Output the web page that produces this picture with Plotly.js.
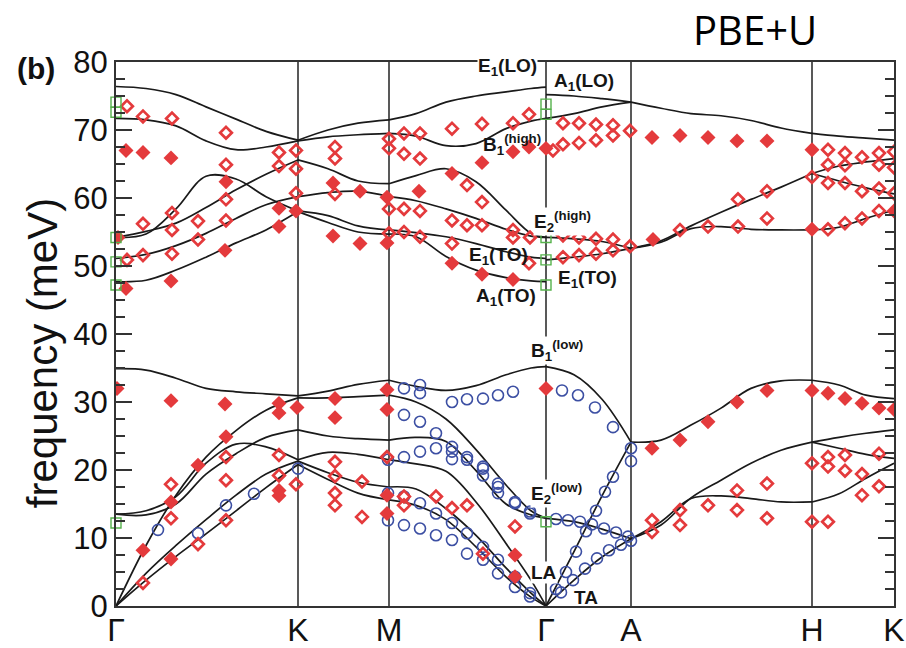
<!DOCTYPE html>
<html><head><meta charset="utf-8">
<script src="https://cdn.plot.ly/plotly-3.0.1.min.js"></script>
<style>html,body{margin:0;padding:0;background:#fff;}#chart{width:906px;height:648px;}</style>
</head><body><div id="chart"></div>
<script>
// k-path positions and labels
const pathPos = [0, 182, 273, 430, 515, 696, 778];
const pathLabels = ['Γ', 'K', 'M', 'Γ', 'A', 'H', 'K'];

// calculated bands, sampled per path segment (meV)
const xGK = [0, 30, 60, 90, 120, 150, 182];
const bandsGK = [
  [76.4, 76.1, 75.2, 73.4, 71.6, 69.8, 68.5],
  [71.7, 71.5, 70.6, 68.4, 67.1, 67.5, 68.4],
  [54.2, 55.1, 56.3, 58.6, 61.2, 63.5, 65.6],
  [54.2, 54.7, 58.4, 63.2, 62.8, 60.2, 58.1],
  [51.1, 51.7, 53.0, 54.8, 57.0, 59.0, 60.2],
  [47.7, 47.9, 49.4, 51.3, 53.4, 55.3, 58.0],
  [34.9, 34.7, 33.5, 32.0, 31.5, 31.2, 30.9],
  [0, 8.9, 16.3, 21.9, 25.8, 28.8, 30.6],
  [13.5, 14.0, 16.1, 21.0, 23.8, 23.4, 21.5],
  [13.5, 13.4, 15.0, 19.4, 22.4, 24.8, 25.9],
  [0, 4.8, 8.9, 12.7, 16.3, 19.4, 21.3],
  [0, 3.8, 7.3, 10.6, 14.0, 17.4, 20.8]
];
const xKM = [182, 212, 242, 273];
const bandsKM = [
  [68.5, 70.0, 71.0, 71.5],
  [68.4, 69.0, 69.3, 69.5],
  [65.6, 64.3, 62.5, 62.1],
  [60.2, 60.8, 61.0, 60.2],
  [58.1, 57.4, 55.9, 55.3],
  [58.0, 56.4, 55.0, 54.7],
  [30.9, 31.6, 32.6, 33.2],
  [30.6, 30.6, 30.8, 31.0],
  [25.9, 25.0, 24.6, 24.4],
  [21.5, 22.6, 22.3, 21.5],
  [21.3, 19.6, 18.2, 17.5],
  [20.8, 18.6, 16.6, 15.6]
];
const xMG = [273, 300, 330, 360, 390, 415, 430];
const bandsMG = [
  [71.5, 72.4, 74.1, 75.0, 75.6, 76.1, 76.3],
  [69.5, 69.1, 67.7, 68.0, 70.2, 71.3, 71.7],
  [62.1, 63.3, 64.3, 62.4, 58.2, 54.8, 54.2],
  [60.2, 59.6, 58.4, 57.0, 55.4, 54.4, 54.2],
  [55.3, 54.9, 54.3, 53.3, 52.1, 51.3, 51.1],
  [54.7, 54.3, 51.4, 49.4, 48.3, 47.8, 47.7],
  [33.2, 32.3, 31.7, 32.4, 34.0, 35.0, 35.2],
  [31.0, 30.0, 27.5, 23.0, 17.8, 14.0, 12.9],
  [24.4, 24.8, 24.2, 19.9, 15.0, 13.4, 12.9],
  [21.5, 20.9, 19.8, 15.3, 9.2, 3.8, 0],
  [17.5, 17.2, 14.3, 10.4, 5.6, 1.9, 0],
  [15.6, 14.8, 12.7, 8.7, 4.3, 1.3, 0]
];
const xGA = [430, 458, 486, 515];
const bandsGA = [
  [75.2, 75.0, 74.6, 74.1],
  [71.7, 72.4, 73.4, 74.1],
  [54.2, 54.0, 53.6, 52.6],
  [50.9, 51.3, 51.8, 52.6],
  [35.2, 34.0, 30.4, 24.1],
  [0, 8.0, 16.2, 24.1],
  [12.9, 12.4, 11.3, 9.9],
  [0, 3.8, 7.2, 9.9]
];
const xAH = [515, 545, 575, 605, 635, 665, 696];
const bandsAH = [
  [74.1, 73.2, 72.4, 72.1, 71.4, 70.3, 69.5],
  [52.6, 53.7, 55.9, 57.9, 59.8, 61.6, 63.6],
  [52.6, 53.5, 55.5, 55.8, 55.4, 55.3, 55.3],
  [24.1, 24.4, 26.6, 29.1, 32.0, 33.1, 33.2],
  [9.9, 11.9, 15.9, 18.5, 21.0, 22.9, 24.1],
  [9.9, 12.4, 15.8, 16.2, 15.8, 15.3, 15.3]
];
const xHK = [696, 723, 750, 778];
const bandsHK = [
  [69.5, 69.1, 68.8, 68.5],
  [63.6, 64.7, 65.3, 65.8],
  [63.6, 62.5, 61.5, 60.6],
  [55.3, 55.7, 57.0, 58.2],
  [33.2, 32.5, 31.0, 30.5],
  [24.1, 24.8, 25.4, 25.9],
  [24.1, 23.2, 22.3, 21.7],
  [15.3, 16.5, 18.8, 21.0]
];

// measured points
const redFilledX = [2,10,27,55,110,163,180,163,109,55,10,
  217,244,271,303,336,217,244,271,336,366,397,366,397,413,430,
  536,564,592,621,651,696,537,696,778,
  1,55,109,163,163,181,110,82,55,27,55,163,163,
  219,219,271,271,271,271,430,399,399,
  536,564,592,621,651,696,712,729,746,763,778];
const redFilledY = [54.2,67.0,66.7,65.9,62.4,58.5,58.1,55.8,52.3,47.8,46.7,
  62.2,61.0,60.1,61.0,63.6,54.4,53.3,53.4,50.4,48.8,48.0,65.2,66.8,67.5,67.3,
  68.9,69.2,68.9,68.4,68.4,67.1,53.9,55.4,58.1,
  32.0,30.2,29.7,29.8,28.4,29.2,24.9,20.7,15.3,8.2,6.9,17.0,16.2,
  30.5,27.7,31.8,28.9,16.3,13.6,32.0,7.5,4.3,
  23.2,24.4,27.1,30.0,31.7,31.7,31.3,30.5,29.8,29.1,28.9];

const redOpenX = [11,27,56,110,163,180,110,163,180,180,27,56,56,82,110,110,82,11,27,56,
  219,219,273,273,288,304,288,304,336,366,397,413,219,273,288,304,351,366,336,351,366,397,397,414,273,288,304,336,413,
  447,463,480,497,514,437,447,463,480,497,447,463,480,497,514,447,463,480,497,
  564,592,622,651,622,651,696,712,729,746,763,778,712,729,746,763,712,729,746,763,778,712,729,763,778,
  55,55,110,110,110,82,27,163,163,180,
  219,219,219,219,246,246,271,288,288,320,336,351,367,399,
  536,536,564,564,592,621,621,651,651,696,696,712,712,712,729,729,746,746,763,763,779,779];
const redOpenY = [73.5,72.0,71.7,69.6,66.7,67.0,64.9,64.7,64.3,60.7,56.2,57.8,55.3,56.6,59.8,56.7,53.9,50.9,51.6,51.8,
  67.5,65.8,68.7,67.3,69.5,69.5,66.5,65.8,70.2,70.9,71.0,72.3,60.6,58.4,58.4,58.1,61.9,59.4,56.7,56.0,56.0,55.3,54.2,54.2,54.8,55.0,54.3,53.3,50.4,
  71.0,71.0,70.8,70.7,69.9,67.0,67.9,68.1,68.5,69.2,54.5,54.2,54.0,53.9,52.9,51.3,51.6,51.8,52.3,
  55.3,55.8,59.8,61.0,55.8,57.0,63.1,62.2,62.2,61.0,61.4,60.7,55.4,56.3,57.0,58.1,67.1,66.6,66.0,66.6,66.8,64.9,64.8,64.9,64.5,
  17.9,12.9,21.9,18.5,12.6,9.1,3.4,22.2,19.2,17.9,
  21.2,19.1,16.6,14.8,18.3,13.1,21.9,16.1,14.8,16.1,14.4,14.8,7.7,11.7,
  12.6,10.9,14.1,11.9,14.8,17.0,14.1,18.0,12.9,21.0,12.4,21.9,20.5,12.4,22.2,19.9,19.4,16.3,22.4,17.6,22.8,17.9];

const blueX = [42,82,110,138,182,
  288,304,304,336,351,367,382,397,446,462,479,497,
  288,304,320,336,351,367,382,399,414,
  272,288,304,320,336,336,351,367,367,382,382,399,414,
  272,288,304,320,336,351,367,382,399,414,
  272,288,304,320,336,351,367,382,399,414,
  515,515,497,489,
  440,450,460,470,480,
  440,452,464,476,488,500,512,
  445,457,469,481,493,505,515];
const blueY = [11.2,10.7,14.8,16.5,20.2,
  32.0,32.5,31.3,30.0,30.4,30.5,31.0,31.5,31.7,31.0,29.2,26.3,
  28.1,27.1,25.4,23.4,21.9,20.5,18.0,15.3,13.9,
  21.5,21.9,22.7,23.2,22.7,21.6,21.5,20.2,19.2,17.5,16.6,15.1,13.6,
  16.6,16.1,15.1,13.6,12.2,10.7,8.7,6.8,4.3,1.9,
  12.6,11.9,11.4,10.4,9.7,7.7,6.8,4.8,2.8,1.4,
  23.2,21.3,19.0,16.8,
  2.5,5.0,8.0,11.0,14.0,
  12.8,12.6,12.4,12.0,11.4,10.8,10.2,
  2.0,3.8,5.5,7.0,8.2,9.0,9.6];

const greenX = [0,0,0,0,0,0,430,430,430,430,430,430];
const greenY = [74.1,72.6,54.2,50.6,47.2,12.2,73.8,72.3,54.2,50.9,47.2,12.4];

const traces = [];
function addBands(xs, bands) {
  bands.forEach(function (ys) {
    traces.push({x: xs, y: ys, type: 'scatter', mode: 'lines', hoverinfo: 'skip',
      line: {color: '#1a1a1a', width: 1.7, shape: 'spline', smoothing: 1}});
  });
}
addBands(xGK, bandsGK); addBands(xKM, bandsKM); addBands(xMG, bandsMG);
addBands(xGA, bandsGA); addBands(xAH, bandsAH); addBands(xHK, bandsHK);

traces.push({x: blueX, y: blueY, type: 'scatter', mode: 'markers',
  marker: {symbol: 'circle-open', size: 11, color: '#3c4fa3', line: {width: 1.6, color: '#3c4fa3'}}});
traces.push({x: redOpenX, y: redOpenY, type: 'scatter', mode: 'markers',
  marker: {symbol: 'diamond-open', size: 9, color: '#e43a3c', line: {width: 2.7, color: '#e43a3c'}}});
traces.push({x: redFilledX, y: redFilledY, type: 'scatter', mode: 'markers',
  marker: {symbol: 'diamond', size: 11.5, color: '#e43a3c', line: {width: 0}}});
traces.push({x: greenX, y: greenY, type: 'scatter', mode: 'markers', cliponaxis: false,
  marker: {symbol: 'square-open', size: 10, color: '#56b24c', line: {width: 1.4, color: '#56b24c'}}});

const shapes = pathPos.slice(1, -1).map(function (p) {
  return {type: 'line', xref: 'x', yref: 'paper', x0: p, x1: p, y0: 0, y1: 1,
    line: {color: '#222', width: 1.5}, layer: 'below'};
});

const LF = 'Liberation Sans, Arial, sans-serif';
const lab = {family: LF, size: 19, color: '#151515'};
function ann(text, x, y, xa, bg) {
  const a = {text: text, x: x, y: y, xref: 'x', yref: 'y', xanchor: xa, yanchor: 'middle',
    showarrow: false, font: lab, borderpad: 0};
  if (bg) a.bgcolor = '#fff';
  return a;
}
const annotations = [
  ann('<b>E<sub>1</sub>(LO)</b>', 391, 79.3, 'center', true),
  ann('<b>A<sub>1</sub>(LO)</b>', 437, 77.1, 'left', false),
  ann('<b>B<sub>1</sub><sup>(high)</sup></b>', 366, 67.8, 'left', false),
  ann('<b>E<sub>2</sub><sup>(high)</sup></b>', 417, 56.5, 'left', true),
  ann('<b>E<sub>1</sub>(TO)</b>', 382, 51.5, 'center', false),
  ann('<b>E<sub>1</sub>(TO)</b>', 441, 48.1, 'left', false),
  ann('<b>A<sub>1</sub>(TO)</b>', 390, 45.5, 'center', false),
  ann('<b>B<sub>1</sub><sup>(low)</sup></b>', 414, 37.6, 'left', true),
  ann('<b>E<sub>2</sub><sup>(low)</sup></b>', 414, 16.6, 'left', true),
  ann('<b>LA</b>', 414, 5.0, 'left', true),
  ann('<b>TA</b>', 457, 1.2, 'left', false),
  {text: '<b>(b)</b>', xref: 'paper', yref: 'paper', x: (36 - 116) / 778, y: (606 - 68) / 544.5,
    xanchor: 'center', yanchor: 'middle', showarrow: false, font: {family: LF, size: 30, color: '#111'}},
  {text: 'PBE+U', xref: 'paper', yref: 'paper', x: (755 - 116) / 778, y: (606 - 29) / 544.5,
    xanchor: 'center', yanchor: 'middle', showarrow: false, font: {family: 'Open Sans, sans-serif', size: 40, color: '#000'}},
  {text: 'frequency (meV)', xref: 'paper', yref: 'paper', x: (42 - 116) / 778, y: (606 - 353) / 544.5,
    xanchor: 'center', yanchor: 'middle', textangle: -90, showarrow: false,
    font: {family: LF, size: 42, color: '#111'}}
];

const layout = {
  width: 906, height: 648, margin: {l: 116, r: 12, t: 62, b: 42},
  paper_bgcolor: '#fff', plot_bgcolor: '#fff', showlegend: false,
  xaxis: {range: [0, 778], tickvals: pathPos, ticktext: pathLabels, ticks: '', showgrid: false,
    zeroline: false, showline: true, mirror: true, linecolor: '#333', linewidth: 2,
    ticklabelstandoff: -5,
    tickfont: {family: LF, size: 32, color: '#111'}},
  yaxis: {range: [0, 80], tick0: 0, dtick: 10, ticks: 'inside', ticklen: 16, tickwidth: 1.5,
    tickcolor: '#333', showgrid: false, zeroline: false, showline: true, mirror: 'ticks',
    linecolor: '#333', linewidth: 2,
    minor: {ticks: 'inside', ticklen: 9, dtick: 2.5, tick0: 0, tickwidth: 1.2, tickcolor: '#333', showgrid: false},
    tickfont: {family: LF, size: 31, color: '#111'}},
  shapes: shapes, annotations: annotations
};

Plotly.newPlot('chart', traces, layout, {displayModeBar: false, staticPlot: true});
</script></body></html>
